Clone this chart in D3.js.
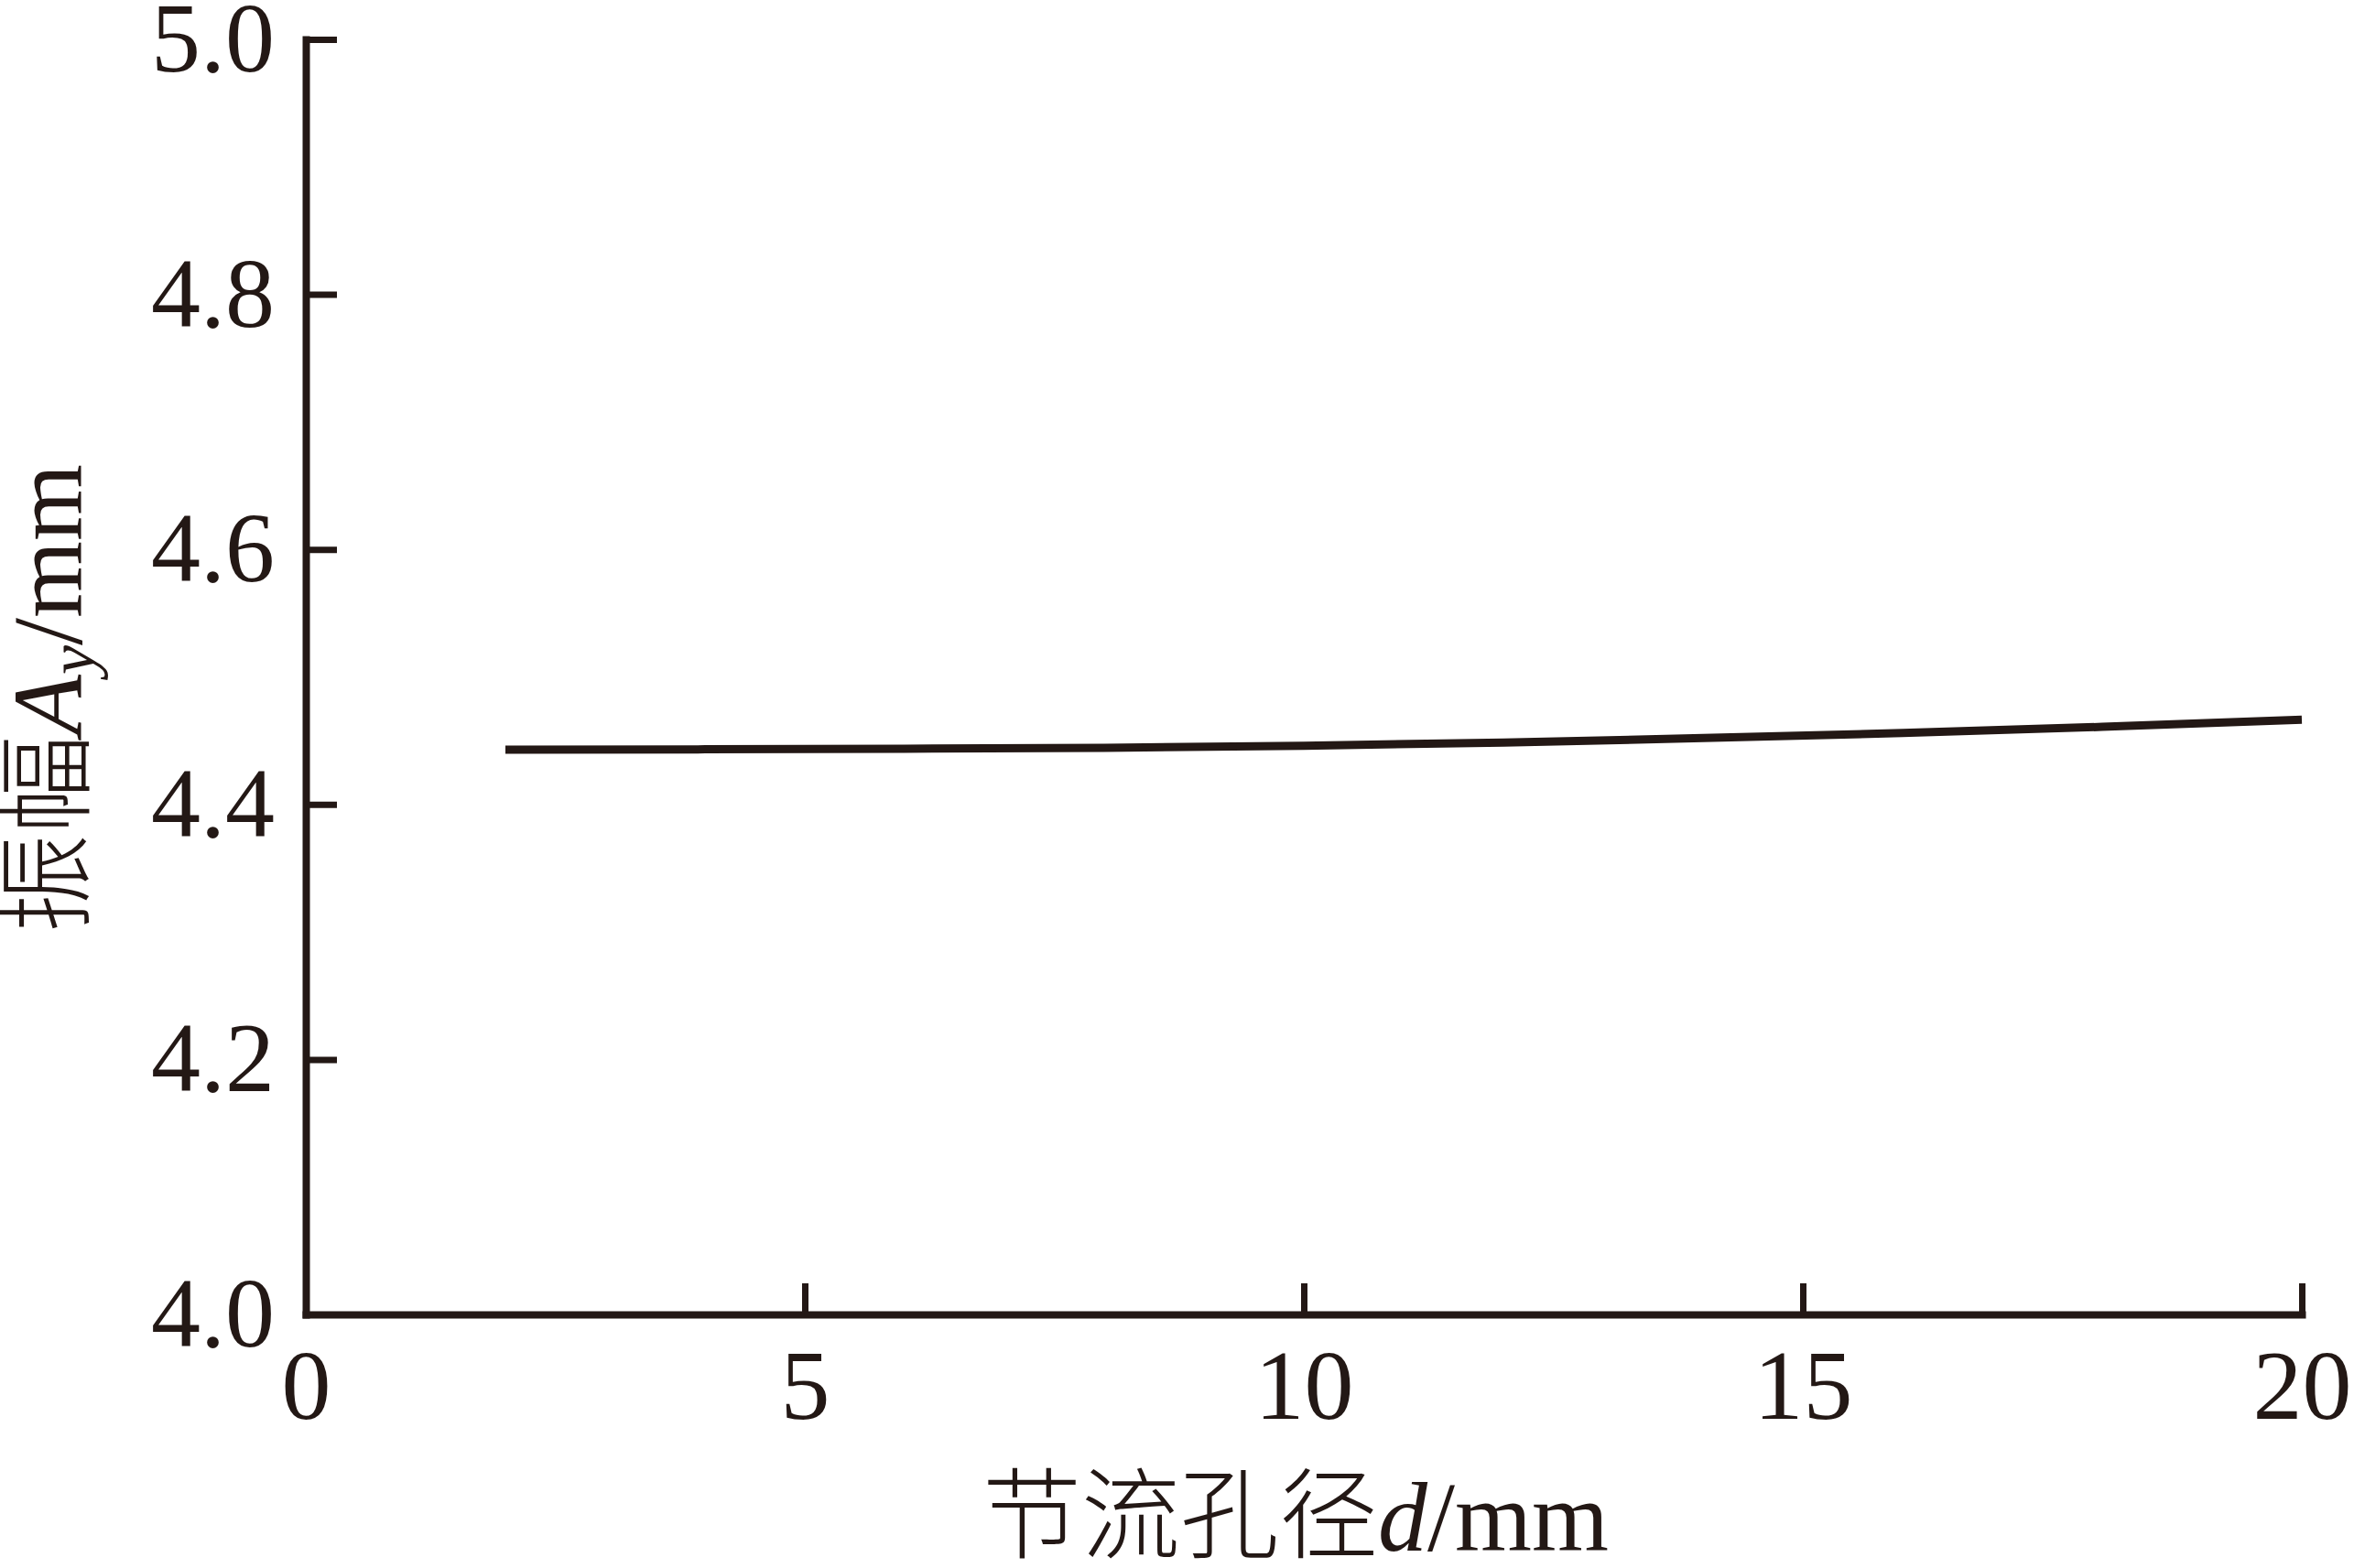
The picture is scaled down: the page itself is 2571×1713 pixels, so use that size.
<!DOCTYPE html>
<html>
<head>
<meta charset="utf-8">
<script src="https://cdn.jsdelivr.net/npm/d3@7/dist/d3.min.js"></script>
<style>
  html, body { margin: 0; padding: 0; background: #fff; }
  svg { display: block; }
</style>
</head>
<body>
<svg id="chart" width="2571" height="1713"></svg>
<script>
// Data
const diameters = [2, 4, 6, 8, 10, 12, 14, 16, 18, 20];
const amplitudes = [4.4429, 4.4432, 4.4437, 4.4444, 4.4460, 4.4485, 4.4520, 4.4560, 4.4608, 4.4665];
const xTicks = [0, 5, 10, 15, 20];
const yTicks = [4.0, 4.2, 4.4, 4.6, 4.8, 5.0];
const xLabel = ["节流孔径", "d", "/mm"];
const yLabel = ["振幅", "A", "y", "/mm"];

const ink = "#231815";
const serif = "'Liberation Serif', 'Times New Roman', 'Noto Sans CJK SC', serif";
const svg = d3.select("#chart");

const x = d3.scaleLinear().domain([0, 20]).range([334, 2514]);
const y = d3.scaleLinear().domain([4.0, 5.0]).range([1436, 43]);

// X axis
const gx = svg.append("g").attr("transform", `translate(0,${y(4.0)})`)
  .call(d3.axisBottom(x).tickValues(xTicks).tickFormat(d3.format("d"))
    .tickSizeInner(-34).tickSizeOuter(0).tickPadding(37));
// Y axis
const gy = svg.append("g").attr("transform", `translate(${x(0)},0)`)
  .call(d3.axisLeft(y).tickValues(yTicks).tickFormat(d3.format(".1f"))
    .tickSizeInner(-34).tickSizeOuter(0).tickPadding(34));

[gx, gy].forEach(g => {
  g.select(".domain").attr("stroke", ink).attr("stroke-width", 8).attr("stroke-linecap", "square");
  g.selectAll(".tick line").attr("stroke", ink).attr("stroke-width", 7);
  g.selectAll(".tick text").attr("fill", ink).style("font-family", serif).style("font-size", "108px");
});

// Line
const line = d3.line().x((d, i) => x(diameters[i])).y(d => y(d));
svg.append("path")
  .datum(amplitudes)
  .attr("d", line)
  .attr("fill", "none")
  .attr("stroke", ink)
  .attr("stroke-width", 9);

// X title
const xt = svg.append("text")
  .attr("x", 1415).attr("y", 1694)
  .attr("text-anchor", "middle")
  .attr("fill", ink)
  .style("font-family", serif).style("font-size", "108px");
xt.append("tspan").style("font-family", "'Noto Sans CJK SC', sans-serif").style("font-weight", "300").text(xLabel[0]);
xt.append("tspan").style("font-family", "'Liberation Serif', serif").style("font-style", "italic").text(xLabel[1]);
xt.append("tspan").style("font-family", "'Liberation Serif', serif").text(xLabel[2]);

// Y title
const yt = svg.append("text")
  .attr("transform", "translate(89,763) rotate(-90)")
  .attr("text-anchor", "middle")
  .attr("fill", ink)
  .style("font-family", serif).style("font-size", "108px");
yt.append("tspan").style("font-family", "'Noto Sans CJK SC', sans-serif").style("font-weight", "300").text(yLabel[0]);
yt.append("tspan").style("font-family", "'Liberation Serif', serif").style("font-style", "italic").text(yLabel[1]);
yt.append("tspan").style("font-family", "'Liberation Serif', serif").style("font-style", "italic").style("font-size", "72px").attr("dy", 14).text(yLabel[2]);
yt.append("tspan").style("font-family", "'Liberation Serif', serif").attr("dy", -14).text(yLabel[3]);
</script>
</body>
</html>
